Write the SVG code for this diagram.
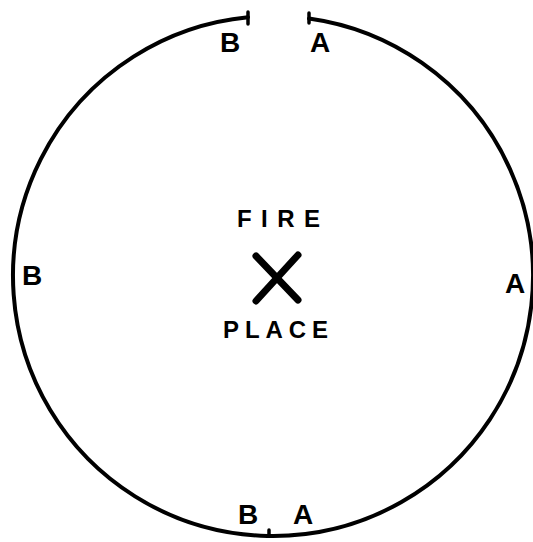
<svg xmlns="http://www.w3.org/2000/svg" width="533" height="542" viewBox="0 0 533 542">
  <style>
    .ring { fill: none; stroke: #000; stroke-width: 4; stroke-linecap: round; }
    .tick { fill: none; stroke: #000; stroke-width: 3.5; stroke-linecap: round; }
    .lbl { font-family: "Liberation Sans", Arial, sans-serif; font-weight: bold; font-size: 28px; fill: #000; text-anchor: middle; }
    .cap { font-family: "Liberation Sans", Arial, sans-serif; font-weight: bold; font-size: 24px; fill: #000; }
    .x { stroke: #000; stroke-width: 7; stroke-linecap: round; }
  </style>
  <rect width="533" height="542" fill="#fff"/>
  <g id="connectors">
    <path class="ring" d="M 309 18.5 A 260 260 0 1 1 248 17.2"/>
    <line class="tick" x1="248" y1="12" x2="248" y2="24"/>
    <line class="tick" x1="309" y1="13" x2="309" y2="23"/>
    <line class="tick" x1="269" y1="530" x2="269" y2="536"/>
  </g>
  <g id="labels-top">
    <text class="lbl" x="230" y="52">B</text>
    <text class="lbl" x="320" y="52">A</text>
  </g>
  <g id="labels-side">
    <text class="lbl" x="32" y="285">B</text>
    <text class="lbl" x="515" y="293">A</text>
  </g>
  <g id="labels-bottom">
    <text class="lbl" x="248" y="524">B</text>
    <text class="lbl" x="303" y="524">A</text>
  </g>
  <g id="fireplace">
    <text class="cap" x="237" y="227" textLength="83" lengthAdjust="spacing">FIRE</text>
    <line class="x" x1="256" y1="256" x2="298" y2="300"/>
    <line class="x" x1="298" y1="255" x2="256" y2="301"/>
    <text class="cap" x="223" y="338" textLength="105" lengthAdjust="spacing">PLACE</text>
  </g>
</svg>
